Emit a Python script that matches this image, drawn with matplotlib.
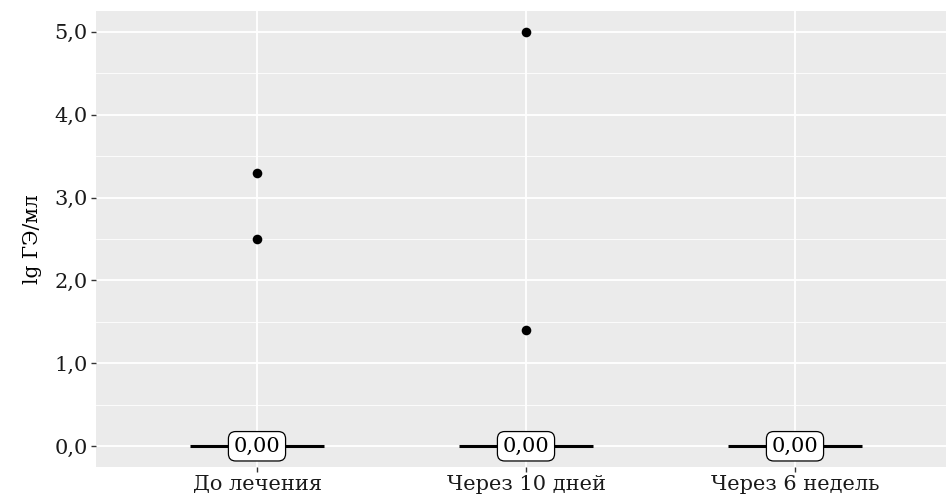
import matplotlib
matplotlib.use("Agg")
import matplotlib.pyplot as plt
from matplotlib.ticker import FixedLocator, FuncFormatter

plt.rcParams["font.family"] = ["DejaVu Serif"]

# groups and their observations (lg GE/ml)
groups = ["До лечения", "Через 10 дней", "Через 6 недель"]
medians = [0.0, 0.0, 0.0]
outliers = [[3.3, 2.5], [5.0, 1.4], []]
median_labels = ["0,00", "0,00", "0,00"]

W, H = 946, 501
fig = plt.figure(figsize=(W / 100, H / 100), dpi=100)
left, right, top, bottom = 96, 946, 11, 467
ax = fig.add_axes([left / W, 1 - bottom / H, (right - left) / W, (bottom - top) / H])

ax.set_facecolor("#EBEBEB")
for s in ax.spines.values():
    s.set_visible(False)

ax.set_ylim(-0.25, 5.25)
step = 269.0
ax.set_xlim(1 - (257 - left) / step, 3 + (right - 795) / step)

ax.yaxis.set_major_locator(FixedLocator([0, 1, 2, 3, 4, 5]))
ax.yaxis.set_minor_locator(FixedLocator([0.5, 1.5, 2.5, 3.5, 4.5]))
ax.yaxis.set_major_formatter(FuncFormatter(lambda v, p: f"{v:.1f}".replace(".", ",")))
ax.set_xticks([1, 2, 3])
ax.set_xticklabels(groups)

ax.grid(which="major", color="white", lw=1.3)
ax.grid(which="minor", axis="y", color="white", lw=0.6)
ax.set_axisbelow(True)

ax.tick_params(axis="both", which="major", length=3.5, width=1.0, color="#333333",
               labelsize=15, labelcolor="#1a1a1a", pad=2.5)
ax.tick_params(axis="both", which="minor", length=0)
ax.set_ylabel("lg ГЭ/мл", fontsize=14.5, color="black", labelpad=9)

half = 0.25
for i, (m, outs, lab) in enumerate(zip(medians, outliers, median_labels), start=1):
    ax.plot([i - half, i + half], [m, m], color="black", lw=2.2, zorder=3,
            solid_capstyle="butt")
    if outs:
        ax.scatter([i] * len(outs), outs, s=48, color="black", zorder=4, linewidths=0)
    ax.text(i, m, lab, ha="center", va="center", fontsize=15, zorder=5,
            bbox=dict(boxstyle="round,pad=0.25,rounding_size=0.35", fc="white",
                      ec="black", lw=0.9))

fig.savefig("out.png", dpi=100)
